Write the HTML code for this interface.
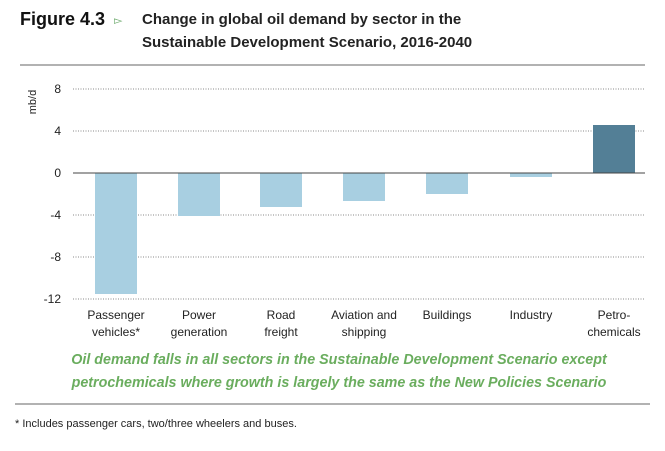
<!DOCTYPE html>
<html><head><meta charset="utf-8"><style>
body{margin:0;width:665px;height:446px;background:#fff;overflow:hidden;font-family:"Liberation Sans",sans-serif}
</style></head><body>
<svg width="665" height="446" xmlns="http://www.w3.org/2000/svg" font-family="Liberation Sans, sans-serif">
<text x="20" y="25" font-size="18" font-weight="bold" fill="#111">Figure 4.3</text>
<text x="114" y="24" font-size="11" fill="#6aa86a">▻</text>
<text x="142" y="24" font-size="15" font-weight="bold" fill="#222">Change in global oil demand by sector in the</text>
<text x="142" y="47" font-size="15" font-weight="bold" fill="#222">Sustainable Development Scenario, 2016-2040</text>
<line x1="20" y1="65" x2="645" y2="65" stroke="#999" stroke-width="1.5"/>
<text transform="translate(36,102) rotate(-90)" font-size="11" fill="#222" text-anchor="middle">mb/d</text>
<g stroke="#888" stroke-width="1" stroke-dasharray="1,1.5">
<line x1="73" y1="89" x2="645" y2="89"/><line x1="73" y1="131" x2="645" y2="131"/>
<line x1="73" y1="215" x2="645" y2="215"/><line x1="73" y1="257" x2="645" y2="257"/>
<line x1="73" y1="299" x2="645" y2="299"/>
</g>
<g font-size="12" fill="#222" text-anchor="end">
<text x="61" y="93">8</text><text x="61" y="135">4</text><text x="61" y="177">0</text>
<text x="61" y="219">-4</text><text x="61" y="261">-8</text><text x="61" y="303">-12</text>
</g>
<g fill="#a8cfe1">
<rect x="95" y="173" width="42" height="121"/>
<rect x="178" y="173" width="42" height="43"/>
<rect x="260" y="173" width="42" height="34"/>
<rect x="343" y="173" width="42" height="28"/>
<rect x="426" y="173" width="42" height="21"/>
<rect x="510" y="173" width="42" height="4"/>
</g>
<rect x="593" y="125" width="42" height="48" fill="#537f96"/>
<line x1="73" y1="173" x2="645" y2="173" stroke="#444" stroke-width="1"/>
<g font-size="12" fill="#222" text-anchor="middle">
<text x="116" y="319">Passenger</text><text x="116" y="336">vehicles*</text>
<text x="199" y="319">Power</text><text x="199" y="336">generation</text>
<text x="281" y="319">Road</text><text x="281" y="336">freight</text>
<text x="364" y="319">Aviation and</text><text x="364" y="336">shipping</text>
<text x="447" y="319">Buildings</text>
<text x="531" y="319">Industry</text>
<text x="614" y="319">Petro-</text><text x="614" y="336">chemicals</text>
</g>
<g font-size="14.3" font-weight="bold" font-style="italic" fill="#6aad5e" text-anchor="middle">
<text x="339" y="364">Oil demand falls in all sectors in the Sustainable Development Scenario except</text>
<text x="339" y="387">petrochemicals where growth is largely the same as the New Policies Scenario</text>
</g>
<line x1="15" y1="404" x2="650" y2="404" stroke="#999" stroke-width="1.5"/>
<text x="15" y="427" font-size="11" fill="#222">* Includes passenger cars, two/three wheelers and buses.</text>
</svg>
</body></html>
